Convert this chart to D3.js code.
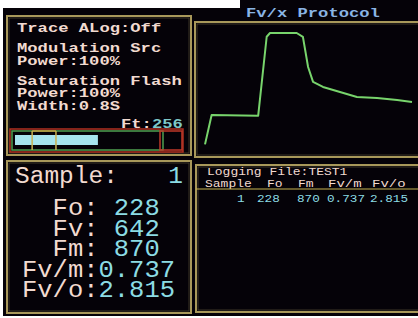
<!DOCTYPE html>
<html>
<head>
<meta charset="utf-8">
<script src="https://cdn.jsdelivr.net/npm/d3@7"></script>
<style>
  body { margin: 0; background: #fff; }
  svg { display: block; }
</style>
</head>
<body>
<div id="chart"></div>
<script>
// ---- data ----
const statusLines = ["Trace ALog:Off", "Modulation Src", "Power:100%", "Saturation Flash", "Power:100%", "Width:0.8S"];
const ftValue = 256;
const ftMarkers = [60, 131];
const protocolTitle = "Fv/x Protocol";
const traceTime = [0, 3.2, 25.7, 29.8, 31.4, 44.3, 47.3, 49.8, 52.2, 57, 65.2, 73.4, 83.1, 92.8, 100];
const traceValue = [5, 233, 228, 841, 870, 870, 840, 606, 490, 451, 412, 373, 365, 350, 334];
const sampleNo = 1;
const resultLabels = ["Fo", "Fv", "Fm", "Fv/m", "Fv/o"];
const resultValues = ["228", "642", "870", "0.737", "2.815"];
const logFile = "TEST1";
const logHeaders = ["Sample", "Fo", "Fm", "Fv/m", "Fv/o"];
const logRow = ["1", "228", "870", "0.737", "2.815"];

const W = 418, H = 318;
const border = "#a8985a", txt = "#f2dad0", cyan = "#8cdce4";

const svg = d3.select("#chart").append("svg").attr("width", W).attr("height", H);

// screen background
svg.append("rect").attr("x", 3).attr("y", 8).attr("width", W - 3).attr("height", 308).attr("fill", "#050208");
svg.append("rect").attr("x", 240).attr("y", 0).attr("width", W - 240).attr("height", 12).attr("fill", "#050208");

// panel frames
const panels = [
  {x: 7, y: 16, w: 184, h: 139},
  {x: 195, y: 22, w: 226, h: 135},
  {x: 7, y: 161, w: 184, h: 152},
  {x: 196, y: 165, w: 226, h: 147}
];
svg.selectAll(".frame").data(panels).join("rect")
  .attr("class", "frame")
  .attr("x", d => d.x).attr("y", d => d.y)
  .attr("width", d => d.w).attr("height", d => d.h)
  .attr("fill", "none").attr("stroke", border).attr("stroke-width", 2);
svg.selectAll(".frame-in").data(panels).join("rect")
  .attr("class", "frame-in")
  .attr("x", d => d.x + 2).attr("y", d => d.y + 2)
  .attr("width", d => d.w - 4).attr("height", d => d.h - 4)
  .attr("fill", "none").attr("stroke", "#4a4230").attr("stroke-width", 0.8);

// helper for stretched monospace text
function mono(g, str, x, y, cw, size, color, weight, anchor) {
  return g.append("text")
    .attr("x", x).attr("y", y)
    .attr("font-family", "'Liberation Mono', 'DejaVu Sans Mono', monospace")
    .attr("font-size", size)
    .attr("font-weight", weight || "normal")
    .attr("fill", color)
    .attr("text-anchor", anchor || "start")
    .attr("textLength", str.length * cw)
    .attr("lengthAdjust", "spacingAndGlyphs")
    .text(str);
}

// ---- top-left: status text ----
const statusY = d3.scaleOrdinal().domain(d3.range(statusLines.length)).range([32, 52, 65, 85, 97, 110]);
statusLines.forEach((s, i) => mono(svg, s, 17, statusY(i), 10.3, 13.5, txt, "bold"));
mono(svg, "Ft:", 121, 128, 10.3, 13.5, txt, "bold");
mono(svg, String(ftValue), 152, 128, 10.3, 13.5, "#7ec8c8", "bold");

// Ft gauge
const gx = d3.scaleLinear().domain([0, 450]).range([12, 163]);
svg.append("rect").attr("x", 10).attr("y", 129).attr("width", 173).attr("height", 23)
  .attr("fill", "none").attr("stroke", "#b03020").attr("stroke-width", 1.5);
svg.append("rect").attr("x", gx(0)).attr("y", 131).attr("width", gx(450) - gx(0)).attr("height", 19)
  .attr("fill", "none").attr("stroke", "#4fa050").attr("stroke-width", 1.5);
svg.append("rect").attr("x", gx(0) + 3).attr("y", 135).attr("width", gx(ftValue) - gx(0) - 3).attr("height", 10)
  .attr("fill", "#a6e4ee");
svg.append("line").attr("x1", gx(ftMarkers[0])).attr("x2", gx(ftMarkers[1])).attr("y1", 131).attr("y2", 131)
  .attr("stroke", "#c8a040").attr("stroke-width", 1.5);
svg.selectAll(".ftmark").data(ftMarkers).join("line")
  .attr("class", "ftmark")
  .attr("x1", d => gx(d)).attr("x2", d => gx(d)).attr("y1", 131).attr("y2", 150)
  .attr("stroke", "#c8b050").attr("stroke-width", 1.5);
svg.append("rect").attr("x", 160).attr("y", 131).attr("width", 22).attr("height", 19)
  .attr("fill", "none").attr("stroke", "#c03828").attr("stroke-width", 1.5);

// ---- top-right: protocol trace ----
mono(svg, protocolTitle, 246, 17, 10.3, 13.5, "#8ab4e4", "bold");
const x = d3.scaleLinear().domain([0, 100]).range([205, 412]);
const y = d3.scaleLinear().domain([0, 870]).range([145, 33]);
svg.append("path")
  .datum(traceTime.map((t, i) => [t, traceValue[i]]))
  .attr("fill", "none").attr("stroke", "#78d46c").attr("stroke-width", 2)
  .attr("stroke-linejoin", "round")
  .attr("d", d3.line().x(d => x(d[0])).y(d => y(d[1])));

// ---- bottom-left: results ----
mono(svg, "Sample:", 15, 183, 14.7, 23, txt);
mono(svg, String(sampleNo), 183, 183, 14.7, 23, cyan, "normal", "end");
const rowY = d3.scalePoint().domain(resultLabels).range([215, 297]);
const gcw = 15.3, gx0 = 22;
resultLabels.forEach((l, i) => {
  const lab = l + ":";
  // label right-aligned so the colon sits in column 4
  mono(svg, lab, gx0 + 5 * gcw, rowY(l), gcw, 23, txt, "normal", "end");
  const col = l.length <= 2 ? 6 : 5;
  mono(svg, resultValues[i], gx0 + col * gcw, rowY(l), gcw, 23, cyan);
});

// ---- bottom-right: log ----
mono(svg, "Logging File:" + logFile, 207, 175, 7.8, 11.5, txt);
const headX = [205, 267, 298, 328, 372];
const rowX = [237, 257, 297, 327, 370];
logHeaders.forEach((h, i) => mono(svg, h, headX[i], 187, i > 2 ? 8.4 : 7.8, 11.5, txt));
svg.append("line").attr("x1", 196).attr("x2", W).attr("y1", 189).attr("y2", 189)
  .attr("stroke", "#c8b450").attr("stroke-width", 1.2);
logRow.forEach((v, i) => mono(svg, v, rowX[i], 202, 7.6, 11.5, cyan));
</script>
</body>
</html>
